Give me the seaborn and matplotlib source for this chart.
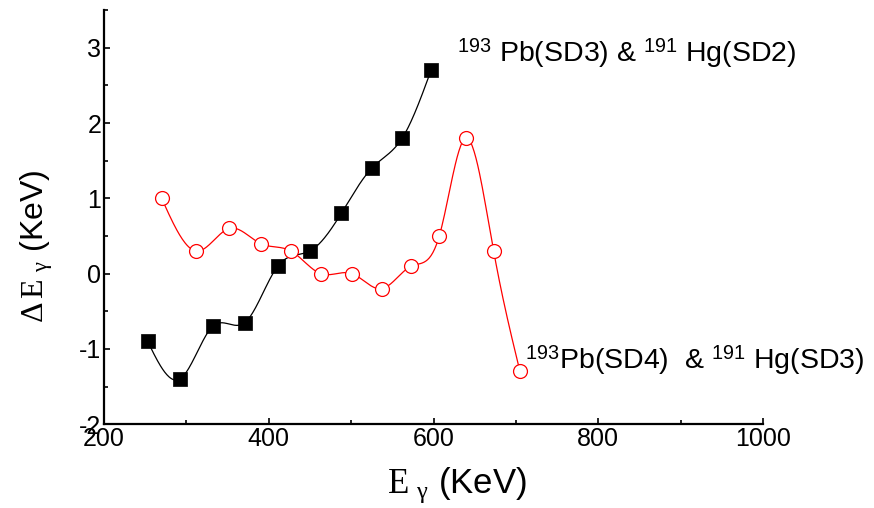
import numpy as np
import pandas as pd
import matplotlib
matplotlib.use("Agg")
import matplotlib.pyplot as plt
import matplotlib.ticker as ticker
import seaborn as sns

# 193Pb(SD3) & 191Hg(SD2)
egamma_sd3 = [253, 292, 332, 371, 411, 450, 488, 525, 562, 597]
delta_sd3 = [-0.9, -1.4, -0.7, -0.65, 0.1, 0.3, 0.8, 1.4, 1.8, 2.7]

# 193Pb(SD4) & 191Hg(SD3)
egamma_sd4 = [270, 312, 352, 390, 427, 463, 501, 537, 573, 607, 639, 673, 705]
delta_sd4 = [1.0, 0.3, 0.6, 0.4, 0.3, 0.0, 0.0, -0.2, 0.1, 0.5, 1.8, 0.3, -1.3]

label_sd3 = r"$^{\mathsf{193}}$ Pb(SD3) & $^{\mathsf{191}}$ Hg(SD2)"
label_sd4 = r"$^{\mathsf{193}}$Pb(SD4)  & $^{\mathsf{191}}$ Hg(SD3)"


def spline_curve(x, y, n=400):
    # natural cubic spline, only used for drawing the connecting line
    x = np.asarray(x, float)
    y = np.asarray(y, float)
    k = len(x)
    h = np.diff(x)
    A = np.zeros((k, k))
    b = np.zeros(k)
    A[0, 0] = 1
    A[-1, -1] = 1
    for i in range(1, k - 1):
        A[i, i - 1] = h[i - 1]
        A[i, i] = 2 * (h[i - 1] + h[i])
        A[i, i + 1] = h[i]
        b[i] = 6 * ((y[i + 1] - y[i]) / h[i] - (y[i] - y[i - 1]) / h[i - 1])
    m = np.linalg.solve(A, b)
    xs = np.linspace(x[0], x[-1], n)
    idx = np.clip(np.searchsorted(x, xs) - 1, 0, k - 2)
    x0, x1 = x[idx], x[idx + 1]
    hh = x1 - x0
    t0 = x1 - xs
    t1 = xs - x0
    ys = (m[idx] * t0 ** 3 + m[idx + 1] * t1 ** 3) / (6 * hh) \
        + (y[idx] / hh - m[idx] * hh / 6) * t0 \
        + (y[idx + 1] / hh - m[idx + 1] * hh / 6) * t1
    return xs, ys


sns.set_style("ticks")
plt.rcParams.update({
    "font.family": ["Liberation Sans", "DejaVu Sans"],
    "mathtext.fontset": "custom",
    "mathtext.rm": "Liberation Serif",
    "mathtext.it": "Liberation Serif:italic",
    "mathtext.sf": "Liberation Sans",
    "axes.unicode_minus": False,
    "xtick.direction": "in",
    "ytick.direction": "in",
    "text.color": "black",
    "axes.labelcolor": "black",
    "axes.edgecolor": "black",
    "xtick.color": "black",
    "ytick.color": "black",
})

fig = plt.figure(figsize=(8.74, 5.08), dpi=100)
ax = fig.add_axes([0.119, 0.165, 0.754, 0.815])

xs, ys = spline_curve(egamma_sd3, delta_sd3)
ax.plot(xs, ys, color="black", lw=0.9)
xs, ys = spline_curve(egamma_sd4, delta_sd4)
ax.plot(xs, ys, color="red", lw=0.9)

df3 = pd.DataFrame({"E": egamma_sd3, "dE": delta_sd3})
df4 = pd.DataFrame({"E": egamma_sd4, "dE": delta_sd4})
sns.scatterplot(data=df3, x="E", y="dE", ax=ax, marker="s", s=90,
                color="black", edgecolor="black", linewidth=0.5, zorder=3)
sns.scatterplot(data=df4, x="E", y="dE", ax=ax, marker="o", s=100,
                facecolor="white", edgecolor="red", linewidth=0.9, zorder=3)

ax.set_xlim(200, 1000)
ax.set_ylim(-2, 3.5)
ax.xaxis.set_major_locator(ticker.MultipleLocator(200))
ax.xaxis.set_minor_locator(ticker.MultipleLocator(100))
ax.yaxis.set_major_locator(ticker.MultipleLocator(1))
ax.yaxis.set_minor_locator(ticker.MultipleLocator(0.5))
ax.tick_params(which="both", labelsize=18, width=1.2, length=4, pad=2)
ax.tick_params(which="minor", length=3)

sns.despine(ax=ax)
for s in ["left", "bottom"]:
    ax.spines[s].set_linewidth(1.6)

ax.set_xlabel(r"$\mathrm{E}\ _{\mathrm{\gamma}}$ (KeV)", fontsize=25)
ax.set_ylabel(r"$\Delta\,\mathrm{E}\ _{\mathrm{\gamma}}$ (KeV)", fontsize=23)
ax.xaxis.set_label_coords(0.535, -0.1)
ax.yaxis.set_label_coords(-0.075, 0.43)

ax.text(628, 2.82, label_sd3, fontsize=20.5, ha="left", va="baseline")
ax.text(711, -1.26, label_sd4, fontsize=20.5, ha="left", va="baseline")

fig.savefig("out.png", dpi=100)
